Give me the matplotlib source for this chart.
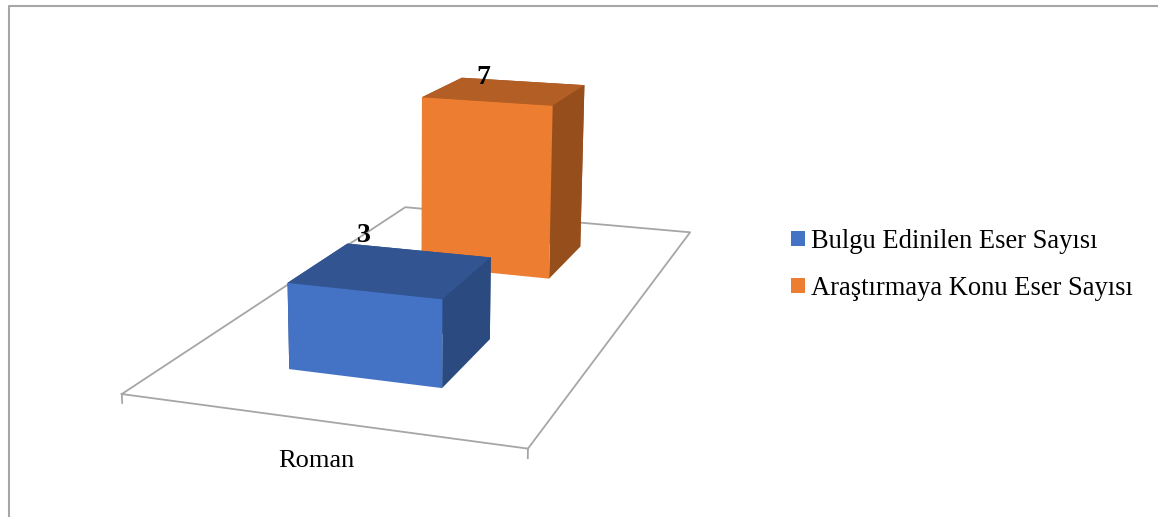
import matplotlib
matplotlib.use('Agg')
import matplotlib.pyplot as plt
import numpy as np
from matplotlib.lines import Line2D
from matplotlib.patches import Patch

plt.rcParams['font.family'] = ['Liberation Serif', 'DejaVu Serif']

# data
categories = ['Roman']
series_names = ['Bulgu Edinilen Eser Sayısı', 'Araştırmaya Konu Eser Sayısı']
series_values = [3, 7]

# front, top and side colours of each bar
front_colors = ['#4472C4', '#ED7D31']
top_colors = ['#325592', '#B25E24']
side_colors = ['#2A4A80', '#964F1C']
grid_color = '#A6A6A6'

W, H = 1158, 517
fig = plt.figure(figsize=(W / 100, H / 100), dpi=100, facecolor='white')

# square 3d axes, camera fitted to the floor corners and bar corners
cx, cy, s = 442.37, 208.64, 787.54
ax = fig.add_axes([(cx - s / 2) / W, (H - cy - s / 2) / H, s / W, s / H], projection='3d')
ax.computed_zorder = False
ax.view_init(elev=13.7124, azim=-71.4936, roll=-0.3422)
ax.set_proj_type('persp', focal_length=0.3751)
ax.set_box_aspect((1, 1.9397, 0.5945))
ax.patch.set_alpha(0)

# floor outline and the two ticks at the front
ax.plot([0, 1, 1, 0, 0], [0, 0, 1, 1, 0], [0, 0, 0, 0, 0], color=grid_color, lw=1.3, zorder=1)
for x_tick in [0, 1]:
    ax.plot([x_tick, x_tick], [0, 0], [0, -0.3], color=grid_color, lw=1.3, zorder=1)

# bars, back one first
bar_x = 0.3019
bar_dx = 0.7025 - 0.3019
bar_y = [0.1499, 0.6528]
bar_dy = [0.3487 - 0.1499, 0.8473 - 0.6528]
for i in [1, 0]:
    face_colors = ['none', top_colors[i], front_colors[i], side_colors[i], side_colors[i], side_colors[i]]
    ax.bar3d(bar_x, bar_y[i], 0, bar_dx, bar_dy[i], series_values[i],
             color=face_colors, shade=False, linewidth=0, zorder=2 + (1 - i))

ax.set_xlim(0, 1)
ax.set_ylim(0, 1)
ax.set_zlim(0, 8)
ax.set_axis_off()


def px(x, y):
    return x / W, 1 - y / H


# value labels and category label
label_pos = [(364, 235), (483, 77)]
for v, (lx, ly) in zip(series_values, label_pos):
    fig.text(*px(lx, ly), str(v), fontsize=20, fontweight='bold', ha='center', va='center', color='black')
fig.text(*px(316, 461), categories[0], fontsize=19, ha='center', va='center', color='black')

# legend
handles = [Patch(facecolor=c, edgecolor='none') for c in front_colors]
fig.legend(handles, series_names, loc='center left', bbox_to_anchor=px(791, 265), frameon=False,
           fontsize=19.1, handlelength=0.52, handleheight=0.52, handletextpad=0.25,
           labelspacing=0.83, borderpad=0, borderaxespad=0)

# chart border, only top and left are in the crop
fig.add_artist(Line2D([8.5 / W, 8.5 / W, 1], [0, 1 - 6 / H, 1 - 6 / H], color=grid_color, lw=1.5))

fig.savefig('out.png', dpi=100)
